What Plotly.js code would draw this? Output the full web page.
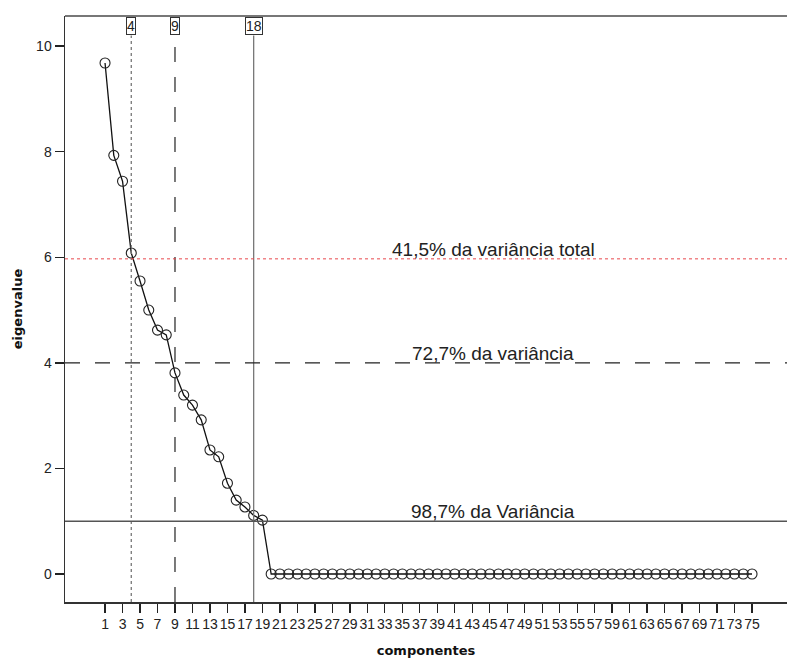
<!DOCTYPE html>
<html><head><meta charset="utf-8">
<script src="https://cdn.plot.ly/plotly-3.0.1.min.js"></script>
<style>html,body{margin:0;padding:0;background:#fff}#chart{width:787px;height:662px}</style>
</head><body><div id="chart"></div>
<script>
var components = [];
for (var i = 1; i <= 75; i++) components.push(i);
var eigenHead = [9.68, 7.93, 7.44, 6.08, 5.55, 5.0, 4.62, 4.53, 3.81, 3.39, 3.2, 2.92, 2.35, 2.22, 1.72, 1.40, 1.27, 1.11, 1.02];
var eigenvalues = eigenHead.concat(new Array(75 - eigenHead.length).fill(0));
var xTickVals = components.filter(function(c){ return c % 2 === 1; });
var cutComponents = [4, 9, 18];
var cutLabels = ["4", "9", "18"];
var cutStyles = [{color:"#777", dash:"dot"}, {color:"#333", dash:"longdash"}, {color:"#777", dash:"solid"}];
var refValues = [5.97, 4, 1];
var refLabels = ["41,5% da variância total", "72,7% da variância", "98,7% da Variância"];
var refStyles = [{color:"#e8474c", dash:"dot", width:1}, {color:"#222", dash:"longdash", width:1.3}, {color:"#555", dash:"solid", width:1.3}];
var refLabelX = [45.4, 45.4, 45.4];

var shapes = [];
var annotations = [];
cutComponents.forEach(function(c, k){
  shapes.push({type:"line", xref:"x", yref:"y", x0:c, x1:c, y0:-0.53, y1:10.2, line:{color:cutStyles[k].color, dash:cutStyles[k].dash, width:1.3}});
  annotations.push({x:c, xref:"x", y:1, yref:"paper", yanchor:"top", yshift:-1, text:cutLabels[k], showarrow:false,
    font:{family:"Liberation Sans, Arial, sans-serif", size:14, color:"#222"}, bordercolor:"#333", borderwidth:1, borderpad:0, bgcolor:"#fff"});
});
refValues.forEach(function(v, k){
  shapes.push({type:"line", xref:"paper", yref:"y", x0:0, x1:1, y0:v, y1:v, line:refStyles[k]});
  annotations.push({x:refLabelX[k], xref:"x", y:v, yref:"y", yanchor:"bottom", yshift:-3, text:refLabels[k], showarrow:false,
    font:{family:"Liberation Sans, Arial, sans-serif", size:19, color:"#222"}});
});
// top border
shapes.push({type:"line", xref:"paper", yref:"paper", x0:0, x1:1, y0:1, y1:1, line:{color:"#777", width:2}});

var trace = {x:components, y:eigenvalues, type:"scatter", mode:"lines+markers",
  line:{color:"#111", width:1.3},
  marker:{symbol:"circle-open", size:10, color:"#222", line:{width:1.1, color:"#222"}},
  hoverinfo:"skip"};

var layout = {
  width:787, height:662,
  margin:{l:65, r:0, t:16, b:60},
  paper_bgcolor:"#fff", plot_bgcolor:"#fff",
  showlegend:false,
  font:{family:"Liberation Sans, Arial, sans-serif", size:14, color:"#222"},
  xaxis:{range:[-3.58, 79.0], tickmode:"array", tickvals:xTickVals, ticktext:xTickVals.map(String),
    ticks:"outside", ticklen:9, tickwidth:1.3, tickcolor:"#222", showgrid:false, zeroline:false,
    showline:true, linecolor:"#333", linewidth:1.5, tickangle:0,
    tickfont:{size:14, color:"#222"},
    title:{text:"<b>componentes</b>", font:{size:13, color:"#111", family:"DejaVu Sans, sans-serif"}, standoff:14}},
  yaxis:{range:[-0.53, 10.57], tickvals:[0,2,4,6,8,10], ticks:"outside", ticklen:9, tickwidth:1.3, tickcolor:"#222",
    showgrid:false, zeroline:false, showline:true, linecolor:"#333", linewidth:1.5,
    tickfont:{size:14, color:"#222"},
    title:{text:"<b>eigenvalue</b>", font:{size:13, color:"#111", family:"DejaVu Sans, sans-serif"}, standoff:10}},
  shapes:shapes,
  annotations:annotations
};
Plotly.newPlot("chart", [trace], layout, {displayModeBar:false, staticPlot:true});
</script></body></html>
